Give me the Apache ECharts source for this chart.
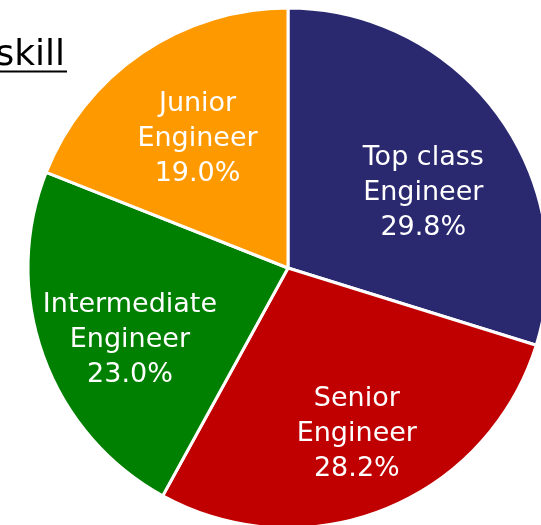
<!DOCTYPE html>
<html>
<head>
<meta charset="utf-8">
<script src="https://cdn.jsdelivr.net/npm/echarts@6/dist/echarts.min.js"></script>
<style>html,body{margin:0;padding:0;background:#fff;}#c{width:541px;height:525px;}</style>
</head>
<body>
<div id="c"></div>
<script>
const categories = ['Top class\nEngineer', 'Senior\nEngineer', 'Intermediate\nEngineer', 'Junior\nEngineer'];
const values = [29.8, 28.2, 23.0, 19.0];
const colors = ['#2A2970', '#C00000', '#008000', '#FF9900'];
const titleText = 'skill';
const labelOffsets = [[0, 25], [6, 10], [0, 15], [4, 10]];

const chart = echarts.init(document.getElementById('c'));
const data = categories.map((n, i) => ({ name: n, value: values[i], itemStyle: { color: colors[i] } }));
const fontFamily = 'DejaVu Sans';
chart.setOption({
  animation: false,
  graphic: [
    { type: 'text', x: 65, y: 38, style: { text: titleText, align: 'right', verticalAlign: 'top', fontFamily: fontFamily, fontSize: 36, fill: '#000' } },
    { type: 'line', shape: { x1: 0, y1: 71.5, x2: 67, y2: 71.5 }, style: { stroke: '#000', lineWidth: 2 } }
  ],
  series: [{
    type: 'pie', center: [288, 268], radius: 260, startAngle: 90, clockwise: true,
    data: data,
    itemStyle: { borderColor: '#fff', borderWidth: 3 },
    label: { show: false }, labelLine: { show: false }, emphasis: { disabled: true }
  }, {
    type: 'pie', center: [288, 268], radius: [70, 260], startAngle: 90, clockwise: true,
    data: data.map((d, i) => ({ name: d.name, value: d.value, itemStyle: { color: 'rgba(0,0,0,0)' }, label: { offset: labelOffsets[i] } })),
    itemStyle: { borderWidth: 0 }, silent: true,
    label: {
      show: true, position: 'inside', color: '#fff', fontFamily: fontFamily, fontSize: 27, lineHeight: 35,
      formatter: p => p.name + '\n' + p.value.toFixed(1) + '%'
    },
    labelLine: { show: false }, emphasis: { disabled: true }
  }]
});
</script>
</body>
</html>
